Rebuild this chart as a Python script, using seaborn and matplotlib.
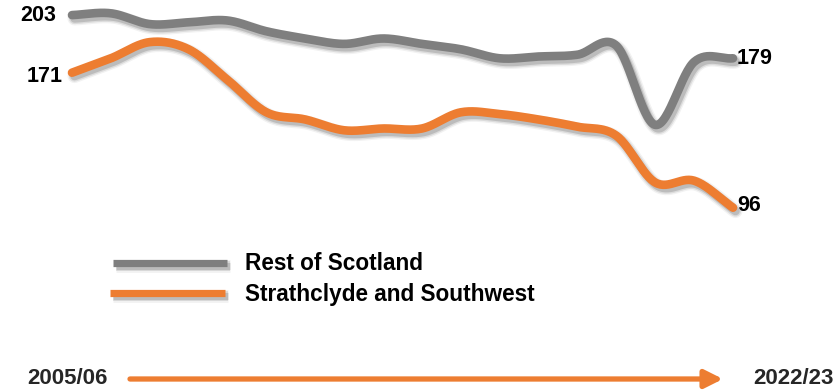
import numpy as np
import pandas as pd
import matplotlib
matplotlib.use("Agg")
import matplotlib.pyplot as plt
import matplotlib.patheffects as pe
import seaborn as sns

# ---- data ----
years = ["2005/06", "2006/07", "2007/08", "2008/09", "2009/10", "2010/11",
         "2011/12", "2012/13", "2013/14", "2014/15", "2015/16", "2016/17",
         "2017/18", "2018/19", "2019/20", "2020/21", "2021/22", "2022/23"]
rest_of_scotland = [203, 204, 198, 199, 200, 194, 190, 187, 190, 187,
                    184, 179, 180, 181, 186, 142, 177, 179]
strathclyde_sw = [171, 179, 188, 184, 167, 149, 145, 139, 140, 140,
                  149, 148, 145, 141, 136, 110, 111, 96]
series_names = ["Rest of Scotland", "Strathclyde and Southwest"]
series_colors = ["#7F7F7F", "#ED7D31"]

sns.set_theme(style="white")
plt.rcParams['font.family'] = ['Liberation Sans', 'DejaVu Sans']

W, H = 836, 391
fig = plt.figure(figsize=(W / 100, H / 100), dpi=100)
ax = fig.add_axes([0, 0, 1, 1])


def smooth(xs, ys, n=30):
    """Catmull-Rom spline through the points (like Excel smoothed lines)."""
    P = np.column_stack([xs, ys]).astype(float)
    P = np.vstack([P[0] * 2 - P[1], P, P[-1] * 2 - P[-2]])
    out = []
    t = np.linspace(0, 1, n, endpoint=False)[:, None]
    for i in range(1, len(P) - 2):
        p0, p1, p2, p3 = P[i - 1], P[i], P[i + 1], P[i + 2]
        c = 0.5 * ((2 * p1) + (-p0 + p2) * t + (2 * p0 - 5 * p1 + 4 * p2 - p3) * t ** 2
                   + (-p0 + 3 * p1 - 3 * p2 + p3) * t ** 3)
        out.append(c)
    out.append(P[-2][None, :])
    c = np.vstack(out)
    return c[:, 0], c[:, 1]


def shadow_fx(lw):
    return [pe.SimpleLineShadow(offset=(1.8, -2.4), shadow_color="black", alpha=0.05, linewidth=lw + 4),
            pe.SimpleLineShadow(offset=(1.8, -2.4), shadow_color="black", alpha=0.09, linewidth=lw + 2),
            pe.SimpleLineShadow(offset=(1.8, -2.4), shadow_color="black", alpha=0.14, linewidth=lw),
            pe.Normal()]


idx = np.arange(len(years))
frames = []
for name, vals in zip(series_names, [rest_of_scotland, strathclyde_sw]):
    sx, sy = smooth(idx, vals)
    frames.append(pd.DataFrame({"x": sx, "y": sy, "series": name}))
df = pd.concat(frames, ignore_index=True)

LW = 6.2
sns.lineplot(data=df, x="x", y="y", hue="series", palette=series_colors,
             sort=False, estimator=None, linewidth=LW, legend=False, ax=ax)
for line in ax.get_lines():
    line.set_path_effects(shadow_fx(LW))
    line.set_solid_capstyle("round")

# pixel mapping: index 0 -> x=72, index 17 -> x=733 ; y_px = 380.5 - 1.8*v
x0, x1 = 72, 733
step = (x1 - x0) / (len(years) - 1)
ax.set_xlim(-x0 / step, (W - x0) / step)
ax.set_ylim((380.5 - H) / 1.8, 380.5 / 1.8)
ax.axis("off")

# end labels
lab_kw = dict(fontsize=15.5, fontweight="bold", color="black", va="center")
ax.text(-0.4, rest_of_scotland[0], str(rest_of_scotland[0]), ha="right", **lab_kw)
ax.text(-0.25, strathclyde_sw[0] - 2, str(strathclyde_sw[0]), ha="right", **lab_kw)
ax.text(17.1, rest_of_scotland[-1], str(rest_of_scotland[-1]), ha="left", **lab_kw)
ax.text(17.1, strathclyde_sw[-1] + 1, str(strathclyde_sw[-1]), ha="left", **lab_kw)


def fx(px):
    return px / W


def fy(py):
    return 1 - py / H


# legend
leg_rows = [(263, 113, 227), (293, 110, 225)]
for (py, xa, xb), name, col in zip(leg_rows, series_names, series_colors):
    ln, = ax.plot([fx(xa), fx(xb)], [fy(py), fy(py)], transform=ax.transAxes,
                  color=col, linewidth=5.2, solid_capstyle="butt")
    ln.set_path_effects(shadow_fx(5.2))
    fig.text(fx(245), fy(py + 1), name, fontsize=16.3, fontweight="bold",
             va="center", ha="left", color="black")

# bottom time arrow
fig.text(fx(27), fy(378), years[0], fontsize=16, fontweight="bold",
         va="center", ha="left")
fig.text(fx(834), fy(378), years[-1], fontsize=16, fontweight="bold",
         va="center", ha="right")
ax.annotate("", xy=(fx(723), fy(379)), xytext=(fx(130), fy(379)),
            xycoords="axes fraction", textcoords="axes fraction",
            arrowprops=dict(arrowstyle="-|>,head_length=0.9,head_width=0.45",
                            color=series_colors[1], linewidth=3.8,
                            shrinkA=0, shrinkB=0))

fig.savefig("out.png", dpi=100)
